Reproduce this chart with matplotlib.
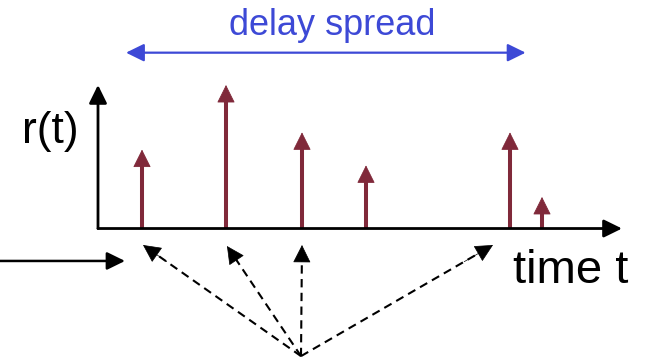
import matplotlib
import matplotlib.pyplot as plt

matplotlib.use('Agg')
plt.rcParams['font.family'] = ['Liberation Sans', 'DejaVu Sans']

# 多径分量：时延与幅度
delays = [1.1, 3.2, 5.1, 6.7, 10.3, 11.1]
amplitudes = [0.55, 1.0, 0.67, 0.44, 0.67, 0.22]

# 反射路径箭头的终点（时间轴下方）
ray_tips_x = [1.125, 3.225, 5.1, 9.875]
ray_tips_y = [-0.115, -0.122, -0.115, -0.115]
ray_origin = (5.075, -0.889)

STEM = '#80293A'
BLUE = '#3D49D6'

fig = plt.figure(figsize=(6.45, 3.61), dpi=100)
ax = fig.add_axes([0, 0, 1, 1])
ax.set_xlim(-2.45, 13.675)
ax.set_ylim(-0.923, 1.592)
ax.axis('off')


def arrow(x0, y0, x1, y1, color='black', lw=1.6, ls='-', hl=0.55, hw=0.27):
    ax.annotate('', xy=(x1, y1), xytext=(x0, y0),
                arrowprops=dict(arrowstyle=f'-|>,head_length={hl},head_width={hw}',
                                color=color, lw=lw, ls=ls, shrinkA=0, shrinkB=0,
                                mutation_scale=20))


# 坐标轴
arrow(0, 0, 0, 1.0, lw=2.0)
arrow(0, 0, 13.1, 0, lw=2.0)

# 冲激响应：竖线 + 箭头
ax.vlines(delays, 0, [a - 0.06 for a in amplitudes], color=STEM, lw=2.9)
for d, a in zip(delays, amplitudes):
    arrow(d, a - 0.2, d, a, color=STEM, lw=0.6, hl=0.58, hw=0.29)

# 时延扩展
ax.annotate('', xy=(0.7, 1.225), xytext=(10.69, 1.225),
            arrowprops=dict(arrowstyle='<|-|>,head_length=0.55,head_width=0.27',
                            color=BLUE, lw=1.6, shrinkA=0, shrinkB=0,
                            mutation_scale=20))
ax.text(5.85, 1.348, 'delay spread', color=BLUE, fontsize=26,
        ha='center', va='baseline')

ax.text(-1.9, 0.598, 'r(t)', fontsize=32, ha='left', va='baseline')
ax.text(10.38, -0.382, 'time t', fontsize=34, ha='left', va='baseline')

# 入射脉冲
arrow(-2.45, -0.226, 0.675, -0.226, lw=1.8)

# 反射路径：虚线 + 实心箭头
ox, oy = ray_origin
for tx, ty in zip(ray_tips_x, ray_tips_y):
    ax.plot([ox, ox + 0.93 * (tx - ox)], [oy, oy + 0.93 * (ty - oy)],
            color='black', lw=1.5, ls=(0, (4, 2.6)))
    arrow(ox + 0.85 * (tx - ox), oy + 0.85 * (ty - oy), tx, ty,
          lw=0.5, hl=0.58, hw=0.29)

plt.savefig('out.png', dpi=100)
plt.close()
